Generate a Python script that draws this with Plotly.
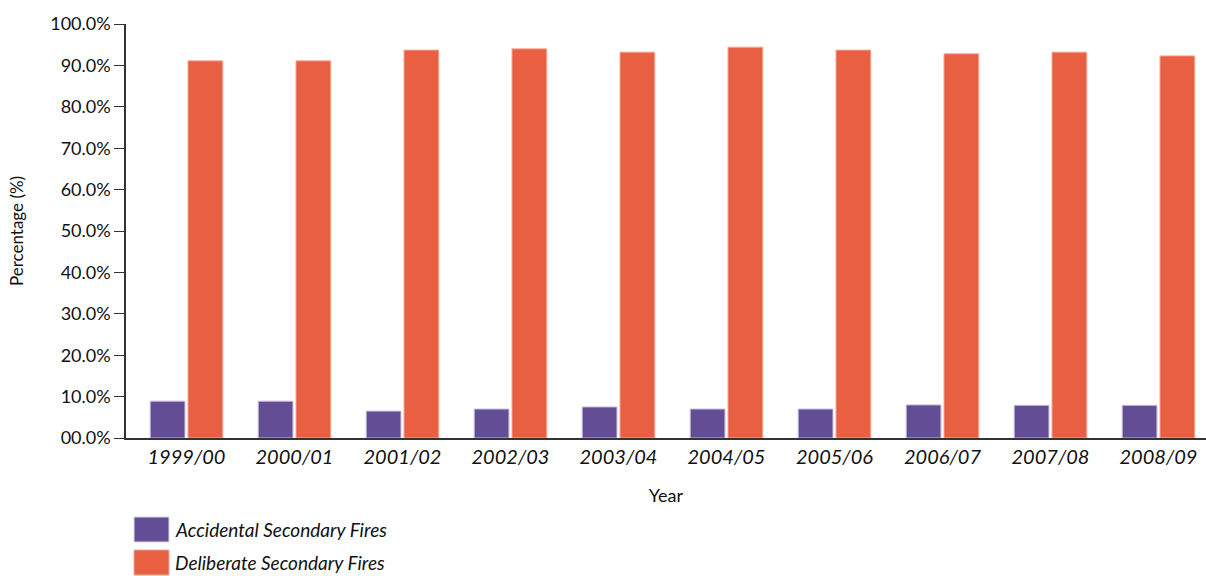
import plotly.graph_objects as go

years = ["1999/00", "2000/01", "2001/02", "2002/03", "2003/04",
         "2004/05", "2005/06", "2006/07", "2007/08", "2008/09"]
accidental = [8.9, 8.9, 6.5, 7.0, 7.5, 7.0, 7.0, 8.0, 7.9, 7.9]
deliberate = [91.1, 91.1, 93.7, 94.0, 93.2, 94.4, 93.7, 92.8, 93.2, 92.3]
series_names = ["Accidental Secondary Fires", "Deliberate Secondary Fires"]
series_colors = ["#634e96", "#e95f42"]
y_ticks = [0, 10, 20, 30, 40, 50, 60, 70, 80, 90, 100]
y_ticklabels = ["00.0%", "10.0%", "20.0%", "30.0%", "40.0%", "50.0%",
                "60.0%", "70.0%", "80.0%", "90.0%", "100.0%"]

FONT = "Lato, 'Open Sans', sans-serif"

fig = go.Figure()
fig.add_trace(go.Bar(x=years, y=accidental, name=series_names[0],
                     marker=dict(color=series_colors[0], line=dict(color="#c9c0dc", width=1))))
fig.add_trace(go.Bar(x=years, y=deliberate, name=series_names[1],
                     marker=dict(color=series_colors[1], line=dict(color="#f4a997", width=1))))

# Legend drawn as swatches + text below the plot (large swatches as in reference)
W, H = 1080.0, 414.0  # plot area size in px
def px_x(p):
    return (p - 126) / W
def px_y(p):
    return (438 - p) / H

legend_rows = [(517, 542), (550, 575)]
for (top, bot), name, col in zip(legend_rows, series_names, series_colors):
    fig.add_shape(type="rect", xref="paper", yref="paper",
                  x0=px_x(134), x1=px_x(169), y0=px_y(bot), y1=px_y(top),
                  fillcolor=col, line=dict(color="#ddd6e8" if col == series_colors[0] else "#f4a997", width=1))
    fig.add_annotation(xref="paper", yref="paper", x=px_x(173), y=px_y((top + bot) / 2),
                       xanchor="left", yanchor="middle", showarrow=False,
                       text=name, font=dict(size=19, style="italic", color="#111111"))

fig.update_layout(
    width=1206, height=576,
    margin=dict(l=126, r=0, t=24, b=138, autoexpand=False),
    paper_bgcolor="white", plot_bgcolor="white",
    barmode="group", bargap=0.3, bargroupgap=0.08,
    font=dict(family=FONT, size=17, color="#111111"),
    showlegend=False,
    xaxis=dict(
        title=dict(text="Year", font=dict(size=18), standoff=22),
        showline=True, linecolor="#333333", linewidth=2,
        ticks="", tickfont=dict(size=20, style="italic"),
        showgrid=False, range=[-0.56, 9.44],
    ),
    yaxis=dict(
        title=dict(text="Percentage (%)", font=dict(size=17), standoff=22),
        range=[0, 100], tickvals=y_ticks, ticktext=y_ticklabels,
        showline=True, linecolor="#333333", linewidth=1.5,
        ticks="outside", ticklen=10, tickcolor="#333333",
        showgrid=False, zeroline=False,
        tickfont=dict(size=18),
    ),
)

fig.write_html("out.html")
